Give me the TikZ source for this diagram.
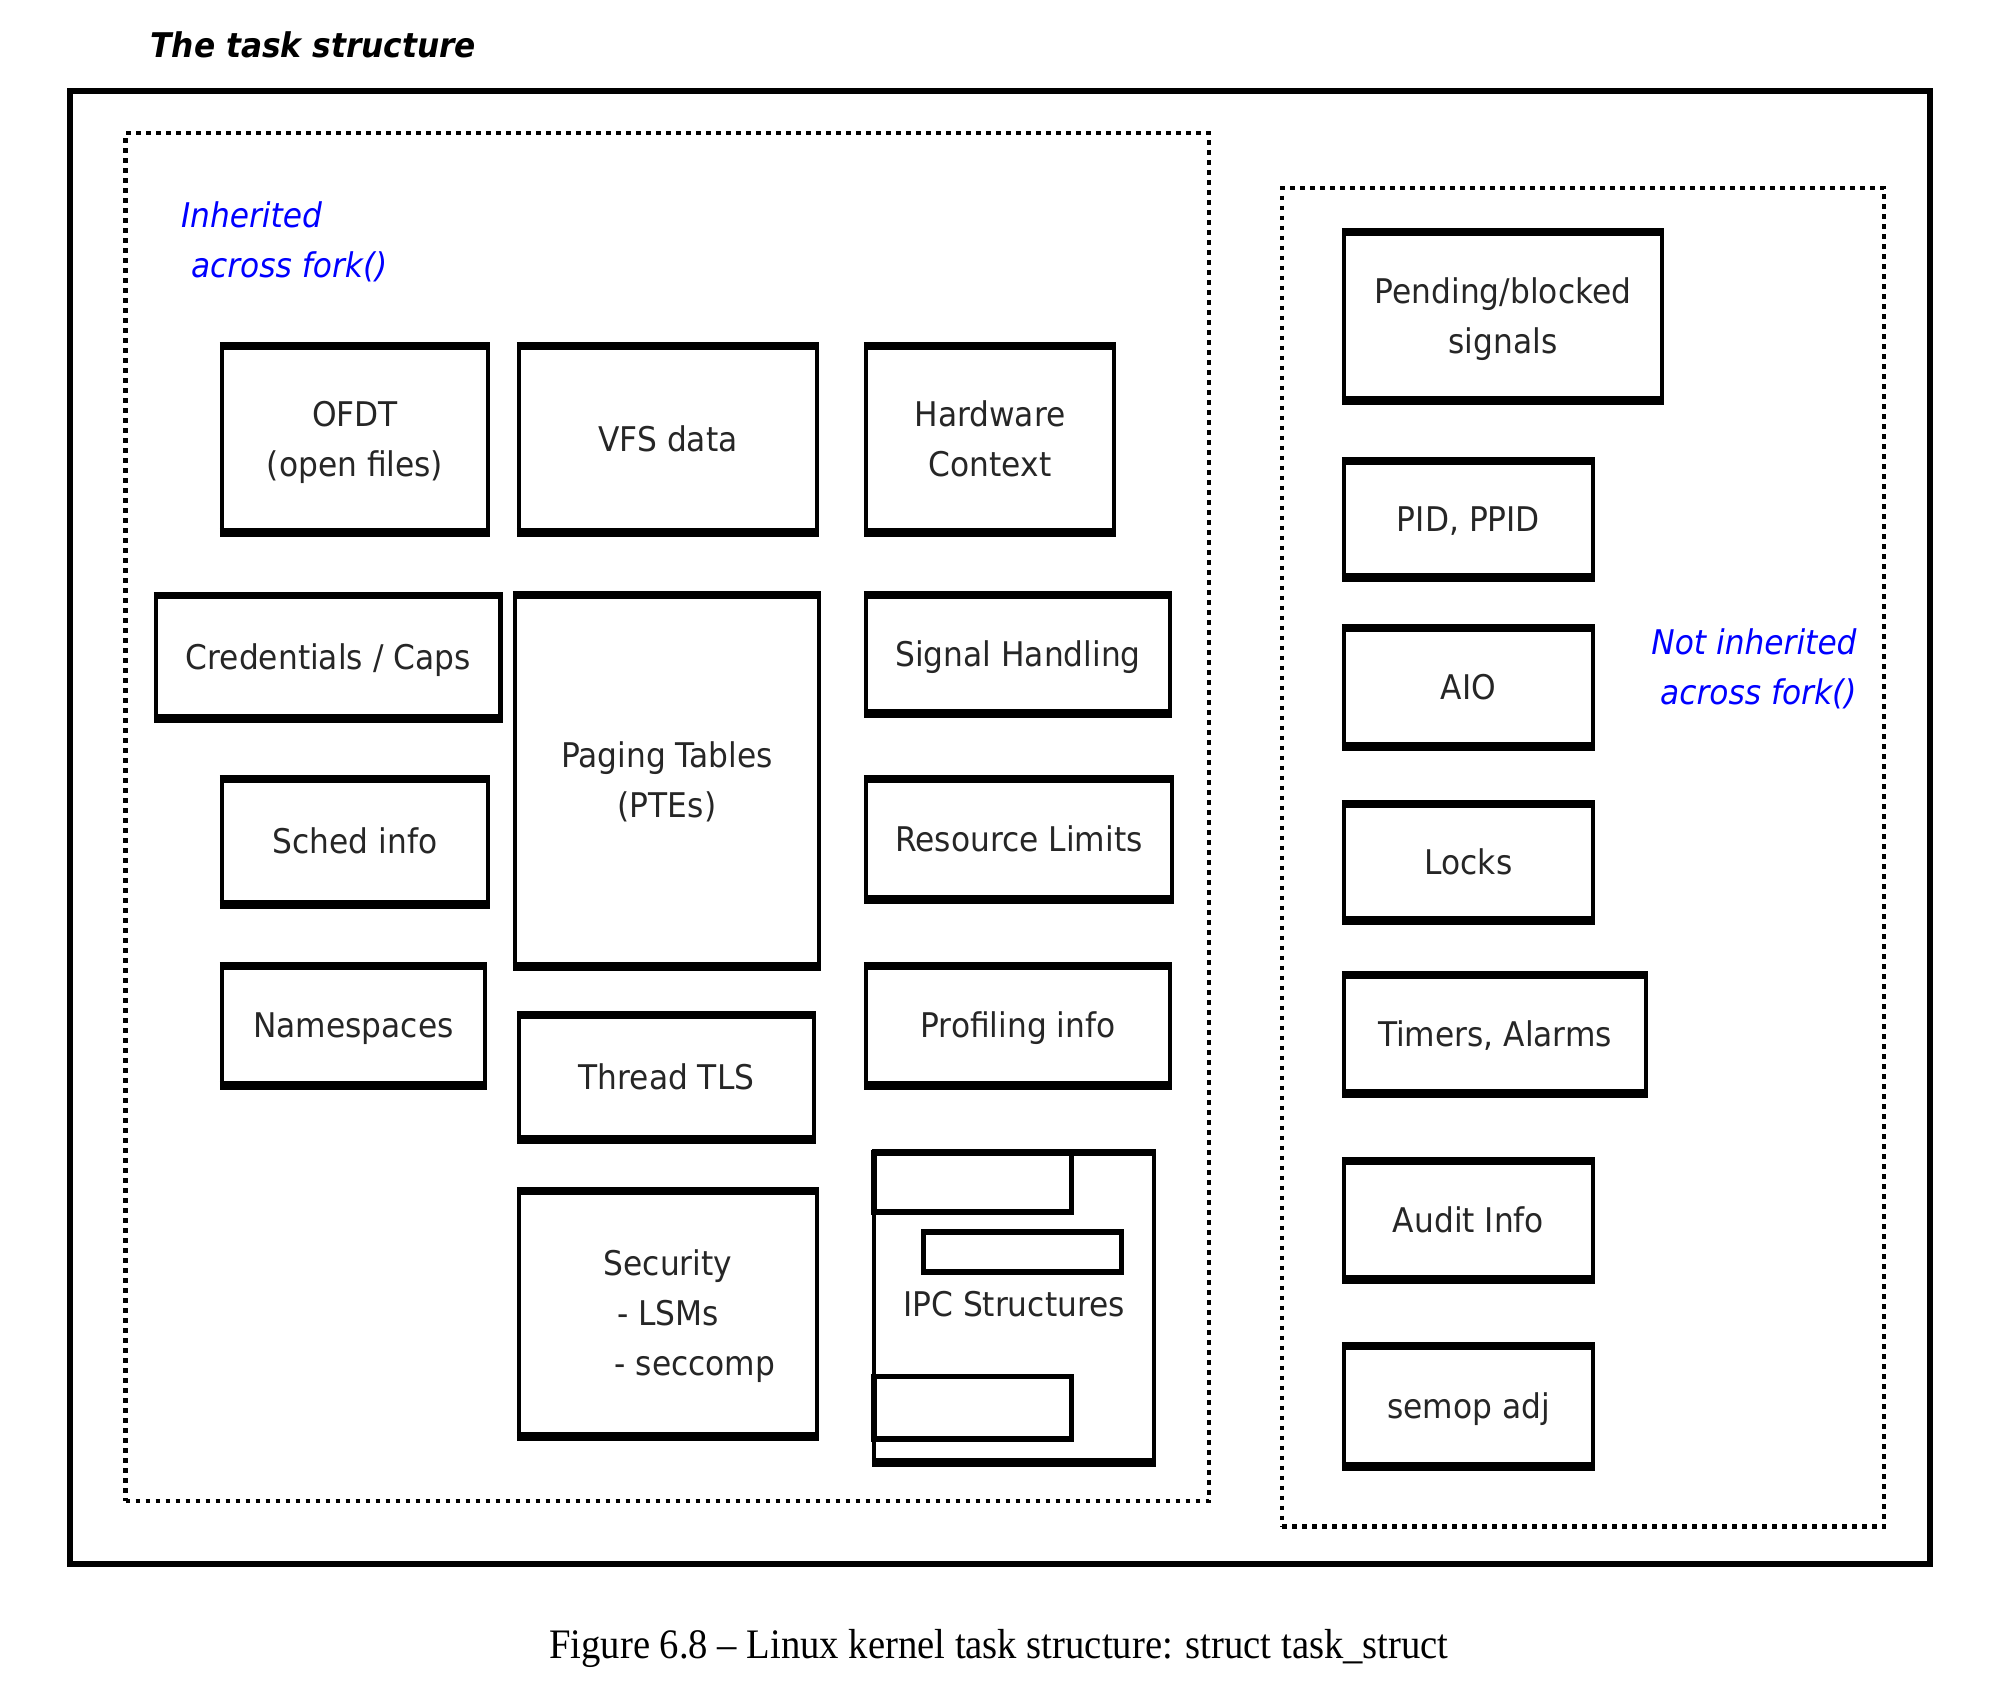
\documentclass[tikz,border=0pt]{standalone}
\usepackage{fontspec}
\setmainfont{DejaVu Sans}[FakeStretch=0.92]
\newfontfamily\figcapfont{Liberation Serif}[FakeStretch=0.92]

% strut that puts the middle of the capitals on the middle of a line box
% (5pt below the baseline, 17.4pt above it)
\newcommand\capstrut{\rule[-5pt]{0pt}{22.4pt}}

% \taskbox{name}{x1}{y1}{x2}{y2}{text}: a framed field of the structure,
% given by the centre lines of its left, top, right and bottom edges.
\newcommand\taskbox[6]{%
  \node[tbox, minimum width={(#4-#2)*0.5pt}, minimum height={(#5-#3)*0.5pt}]
    (#1) at ({(#2+#4)/2},{(#3+#5)/2}) {\capstrut#6\capstrut};}

\begin{document}
\begin{tikzpicture}[x=0.5pt, y=-0.5pt,
  tbox/.style={draw, line width=2.25pt, inner sep=0pt, outer sep=0pt, align=center,
    text=black!85, font=\fontsize{17pt}{25pt}\selectfont},
  topbar/.style={line width=3.75pt, shorten <=-1.125pt, shorten >=-1.125pt},
  botbar/.style={line width=4.5pt, shorten <=-1.125pt, shorten >=-1.125pt},
  region/.style={draw, line width=2.25pt, dash pattern=on 2.25pt off 2.75pt, inner sep=0pt, outer sep=0pt},
  note/.style={text=blue, inner sep=0pt, font=\fontsize{17pt}{25pt}\selectfont\itshape},
  inner/.style={line width=2.75pt},
]
\fill[white] (0,0) rectangle (2008,1688);
\useasboundingbox (0,0) rectangle (2008,1688);

% heading and frame of task_struct
\node[anchor=base west, inner sep=0pt, font=\fontsize{17pt}{20pt}\selectfont\bfseries\itshape]
  (title) at (150,57.7) {The task structure};
\node[draw, line width=3pt, inner sep=0pt, outer sep=0pt,
      minimum width={(1930-70)*0.5pt}, minimum height={(1564-91)*0.5pt}]
  (task) at ({(70+1930)/2},{(91+1564)/2}) {};

% the two groups of fields
\node[region, minimum width={(1209-125.5)*0.5pt}, minimum height={(1501-133)*0.5pt}]
  (inheritedgrp) at ({(125.5+1209)/2},{(133+1501)/2}) {};
\node[region, minimum width={(1884-1282)*0.5pt}, minimum height={(1526.5-188)*0.5pt}]
  (privategrp) at ({(1282+1884)/2},{(188+1526.5)/2}) {};

\node[note, align=left, anchor=west] (inhnote) at (180.6,240)
  {\capstrut Inherited\\\hspace*{5pt}across fork()\capstrut};
\node[note, align=right, anchor=east] (privnote) at (1857,667)
  {\capstrut Not inherited\\across fork()\capstrut};

% fields kept by the child
\taskbox{ofdt}{222}{346}{488}{532}{OFDT\\(open files)}
\taskbox{vfs}{519}{346}{817}{532}{VFS data}
\taskbox{hw}{866}{346}{1114}{532}{Hardware\\Context}
\taskbox{cred}{156}{595.5}{500.5}{718.5}{Credentials / Caps}
\taskbox{paging}{515}{595}{819}{966}{Paging Tables\\(PTEs)}
\taskbox{sighand}{866}{595}{1170}{713}{Signal Handling}
\taskbox{sched}{222}{779}{488}{904}{Sched info}
\taskbox{rlim}{866}{779}{1172}{899}{Resource Limits}
\taskbox{ns}{222}{966}{485}{1085}{Namespaces}
\taskbox{prof}{866}{966}{1170}{1085}{Profiling info}
\taskbox{tls}{519}{1015}{814}{1139}{Thread TLS}
\taskbox{sec}{519}{1191}{817}{1436}{Security\\- LSMs\\\hspace*{27pt}- seccomp}
\taskbox{ipc}{874}{1152.5}{1154}{1462.5}{\raisebox{1.75pt}{IPC Structures}}

% stacked records inside the IPC field
\draw[inner] (874,1152.5) rectangle (1071.5,1212);
\draw[inner] (923.5,1232) rectangle (1121.5,1272);
\draw[inner] (874,1376.5) rectangle (1071.5,1439);

% fields that are not inherited
\taskbox{pend}{1344}{232}{1662}{400}{Pending/blocked\\signals}
\taskbox{pid}{1344}{461}{1593}{577}{PID, PPID}
\taskbox{aio}{1344}{628}{1593}{746}{AIO}
\taskbox{locks}{1344}{804}{1593}{920}{Locks}
\taskbox{timers}{1344}{975}{1646}{1093}{Timers, Alarms}
\taskbox{audit}{1344}{1161}{1593}{1279}{Audit Info}
\taskbox{semop}{1344}{1346}{1593}{1466}{semop adj}

% heavier top and bottom edges of every field
\foreach \n in {ofdt,vfs,hw,cred,paging,sighand,sched,rlim,ns,prof,tls,sec,ipc,
                pend,pid,aio,locks,timers,audit,semop} {
  \draw[topbar] (\n.north west) -- (\n.north east);
  \draw[botbar] (\n.south west) -- (\n.south east);
}

\node[anchor=base, inner sep=0pt, font=\figcapfont\fontsize{21pt}{25pt}\selectfont]
  (caption) at (999,1658) {Figure 6.8 – Linux kernel task structure: struct task\_struct};
\end{tikzpicture}
\end{document}
